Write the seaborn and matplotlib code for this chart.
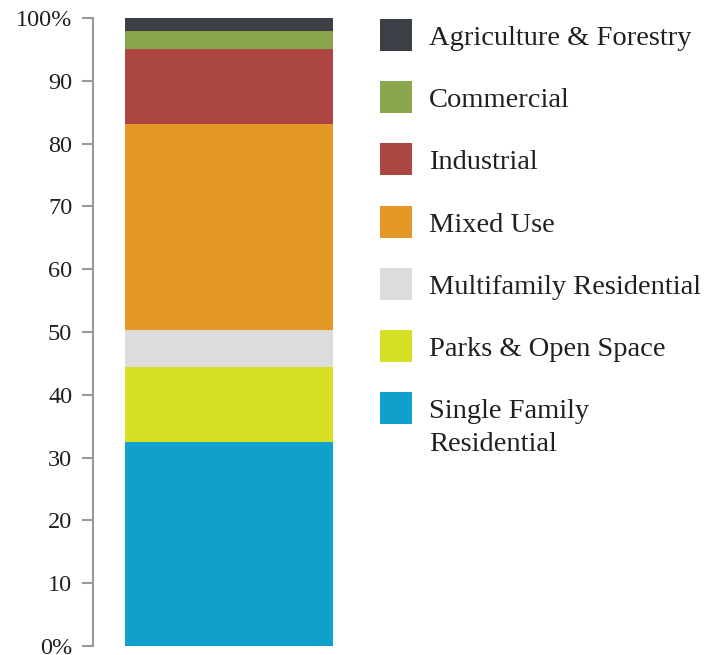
import matplotlib
matplotlib.use("Agg")
import matplotlib.pyplot as plt
import seaborn as sns
import numpy as np
from matplotlib.patches import Rectangle

# land use shares, bottom to top (percent)
categories = ["Single Family Residential", "Parks & Open Space", "Multifamily Residential",
              "Mixed Use", "Industrial", "Commercial", "Agriculture & Forestry"]
shares = [32.5, 11.9, 5.9, 32.8, 11.9, 2.9, 2.1]
colors = ["#0fa0cb", "#d6df24", "#dcdcdc", "#e39825", "#ac4643", "#8aa64a", "#3a4045"]
legend_labels = ["Agriculture & Forestry", "Commercial", "Industrial", "Mixed Use",
                 "Multifamily Residential", "Parks & Open Space", "Single Family\nResidential"]
tick_values = [0, 10, 20, 30, 40, 50, 60, 70, 80, 90, 100]
tick_labels = ["0%", "10", "20", "30", "40", "50", "60", "70", "80", "90", "100%"]

sns.set_style("white")
plt.rcParams['font.family'] = ['Liberation Serif', 'DejaVu Serif']
text_col = "#231f20"
axis_col = "#999999"

W, H = 720, 655
fig = plt.figure(figsize=(W / 100, H / 100), dpi=100)
ax = fig.add_axes([93 / W, 9 / H, 272 / W, 628 / H])

bottoms = np.concatenate([[0], np.cumsum(shares)[:-1]])
for val, b, c in zip(shares, bottoms, colors):
    sns.barplot(x=["all"], y=[val], bottom=b, color=c, width=0.765,
                saturation=1, linewidth=0, ax=ax)

ax.set_xlim(-0.5, 0.5)
ax.set_ylim(0, 100)
ax.set_xlabel("")
ax.set_ylabel("")
ax.set_xticks([])
ax.set_yticks(tick_values)
ax.set_yticklabels(tick_labels, fontsize=17.5, color=text_col)
ax.tick_params(axis="y", direction="out", length=8, width=1.5, color=axis_col, pad=7, left=True)
for s in ["top", "right", "bottom"]:
    ax.spines[s].set_visible(False)
ax.spines["left"].set_color(axis_col)
ax.spines["left"].set_linewidth(1.5)

# legend drawn by hand, top to bottom
legend_colors = colors[::-1]
sq = 32
for i, (lab, c) in enumerate(zip(legend_labels, legend_colors)):
    cy = 35 + i * 62.2
    fig.patches.append(Rectangle((380 / W, 1 - (cy + sq / 2) / H), sq / W, sq / H,
                                 transform=fig.transFigure, facecolor=c, edgecolor="none"))
    lines = lab.split("\n")
    for j, line in enumerate(lines):
        fig.text(429 / W, 1 - (cy + 10 + j * 33) / H, line, fontsize=20.5, color=text_col,
                 va="baseline", ha="left")

fig.savefig("out.png", dpi=100)
